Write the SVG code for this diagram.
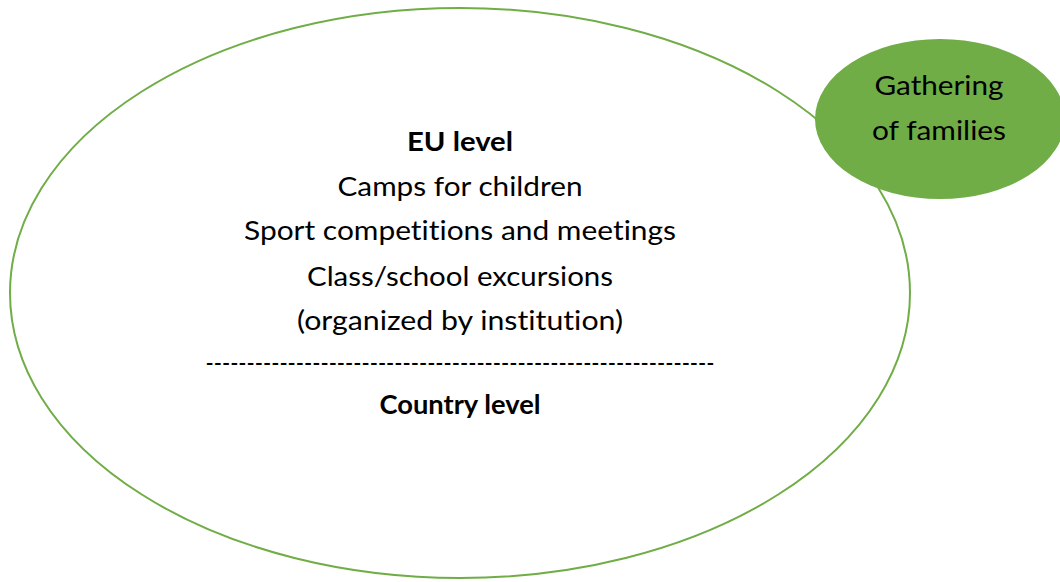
<svg xmlns="http://www.w3.org/2000/svg" width="1060" height="582" viewBox="0 0 1060 582">
<style>
.t{font-family:Lato,"Liberation Sans",sans-serif;font-size:27.5px;fill:#000;text-anchor:middle;font-variant-ligatures:none}
.b{font-weight:bold}
</style>
<rect width="1060" height="582" fill="#fff"/>
<g id="connectors"></g>
<g id="main">
<ellipse cx="460" cy="293" rx="450" ry="285" fill="none" stroke="#70AD47" stroke-width="2"/>
<text class="t b" x="460" y="151" textLength="106" lengthAdjust="spacingAndGlyphs">EU level</text>
<text class="t" x="460" y="196" textLength="245" lengthAdjust="spacingAndGlyphs">Camps for children</text>
<text class="t" x="460" y="240" textLength="432" lengthAdjust="spacingAndGlyphs">Sport competitions and meetings</text>
<text class="t" x="460" y="286" textLength="306" lengthAdjust="spacingAndGlyphs">Class/school excursions</text>
<text class="t" x="460" y="330" textLength="326" lengthAdjust="spacingAndGlyphs">(organized by institution)</text>
<text class="t" x="460" y="372" textLength="509" lengthAdjust="spacingAndGlyphs">--------------------------------------------------------------</text>
<text class="t b" x="460" y="414" textLength="161" lengthAdjust="spacingAndGlyphs">Country level</text>
</g>
<g id="gathering">
<ellipse cx="940" cy="119" rx="125" ry="80" fill="#70AD47"/>
<text class="t" x="939" y="95" textLength="129" lengthAdjust="spacingAndGlyphs">Gathering</text>
<text class="t" x="939" y="140" textLength="134" lengthAdjust="spacingAndGlyphs">of families</text>
</g>
</svg>
